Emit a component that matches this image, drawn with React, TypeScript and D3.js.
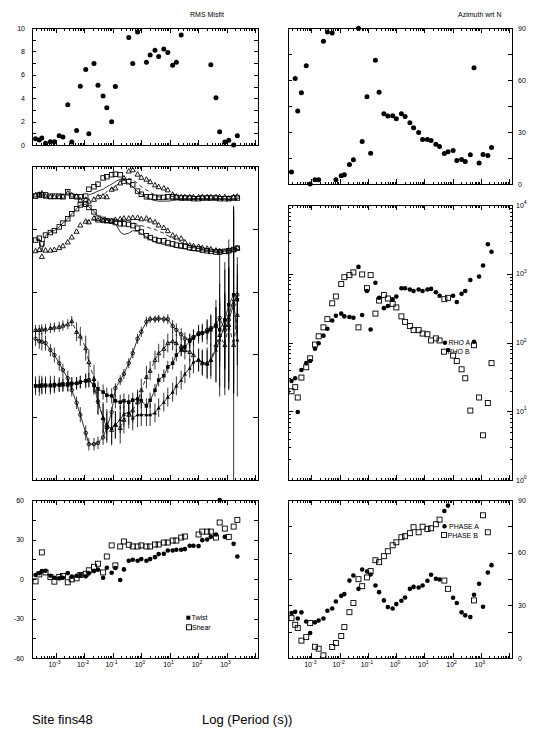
import React from "react";
import * as d3 from "d3";

// ---------- DATA ----------
// log10 of period (s), shared by every panel
const PERIOD_LOG = [-3.70,-3.57,-3.48,-3.35,-3.18,-3.04,-2.87,-2.74,-2.57,-2.43,-2.26,-2.13,-1.94,-1.83,-1.65,-1.51,-1.33,-1.20,-1.03,-0.90,-0.73,-0.60,-0.43,-0.29,-0.12,0.01,0.19,0.32,0.49,0.62,0.80,0.94,1.11,1.24,1.41,1.54,1.71,1.84,2.02,2.15,2.32,2.45,2.63,2.76,2.94,3.08,3.25,3.38];

const RMS_MISFIT = [0.54,0.43,0.60,0.14,0.28,0.28,0.80,0.68,3.44,0.26,1.25,5.03,6.45,0.97,6.96,5.11,4.18,3.18,1.99,5.00,null,null,9.18,6.96,9.66,null,7.07,7.70,8.10,7.56,8.21,7.90,6.82,7.07,9.40,null,null,null,null,null,null,6.85,4.03,1.14,0.26,0.40,0.00,0.80];

const AZIMUTH = [6.9,60.9,42.1,52.7,68.2,0.0,2.5,2.5,82.3,87.7,87.1,2.5,4.8,5.4,11.3,14.0,89.8,24.5,50.4,17.8,71.4,53.0,40.6,39.3,39.4,37.7,40.6,38.9,35.4,32.4,29.7,25.7,25.7,25.1,23.0,21.6,17.6,18.6,19.3,13.6,14.2,13.0,16.9,67.0,12.1,17.0,16.5,21.1];

// log10 apparent resistivity
const RHO_A_LOG = [1.44,1.48,0.99,1.60,1.70,1.73,1.91,1.99,2.10,2.20,2.32,2.39,2.42,2.38,2.37,2.36,3.10,2.40,2.75,2.19,2.87,2.65,2.50,2.53,2.63,2.67,2.79,2.79,2.77,2.75,2.77,2.75,2.77,2.78,2.73,2.68,null,1.89,2.68,2.59,2.71,2.75,2.91,2.01,2.96,3.12,3.43,3.32];
const RHO_B_LOG = [1.29,1.35,1.20,1.49,1.64,1.77,1.97,2.09,2.22,2.34,2.57,2.67,2.85,2.95,2.98,3.02,2.22,2.99,2.79,2.98,2.42,2.61,2.69,2.64,2.56,2.51,2.38,2.30,2.24,2.18,2.18,2.13,2.12,2.03,2.06,2.03,2.63,2.65,1.81,1.73,1.61,1.48,1.01,1.96,1.20,0.65,1.12,1.70];

const PHASE_A = [25.6,26.3,22.5,26.0,20.8,14.2,20.3,21.4,22.5,26.9,28.2,32.2,35.4,36.4,44.1,47.0,39.4,50.4,49.3,47.6,41.3,37.5,32.8,29.0,28.2,30.7,32.6,34.5,39.4,40.5,40.2,41.3,44.0,47.4,45.1,44.7,83.7,86.8,34.3,31.3,26.0,24.3,23.3,36.0,42.3,29.2,48.7,52.9];
const PHASE_B = [22.7,18.9,17.1,9.9,11.9,19.9,6.4,5.3,1.5,null,6.3,8.5,12.5,17.6,26.1,31.3,44.9,40.9,45.9,49.5,55.7,54.6,58.0,60.8,64.2,65.9,68.8,69.4,71.1,74.5,71.6,74.8,73.5,73.9,76.2,78.8,44.1,39.4,null,null,null,null,null,32.8,null,81.3,71.6,null];

const TWIST = [3.0,4.5,6.0,6.3,2.5,1.0,0.5,1.0,4.5,1.8,2.5,3.0,2.0,4.3,6.0,7.1,1.0,8.6,4.8,8.3,-0.8,7.3,13.9,14.6,13.9,15.1,13.9,15.1,16.6,18.9,19.2,21.7,21.7,22.2,22.2,22.7,25.2,25.2,25.0,29.5,30.0,32.0,33.8,60.0,32.0,null,26.7,17.1];
const SHEAR = [-1.8,3.5,20.2,5.0,1.5,-2.0,1.5,2.3,-2.5,-0.3,0.5,3.0,4.0,6.6,9.3,11.6,5.0,17.1,25.5,10.3,24.7,28.5,26.0,24.7,24.7,25.5,24.7,24.7,26.2,26.2,27.7,27.7,29.2,29.2,31.5,32.3,null,null,33.8,36.0,36.0,36.0,31.5,42.9,38.3,32.0,39.8,44.9];

// middle-left panel (unlabelled axis, arbitrary units 0..5)
const ML_SQ_UP = [4.52,4.54,4.54,4.54,4.52,4.52,4.52,4.51,4.59,4.52,4.51,4.51,4.52,4.63,4.67,4.71,4.81,4.83,4.86,4.87,4.86,4.76,4.75,4.70,4.60,4.55,4.51,4.51,4.50,4.50,4.50,4.51,4.51,4.50,4.49,4.49,4.49,4.48,4.48,4.49,4.49,4.49,4.49,4.48,4.48,4.48,4.49,4.49];
const ML_TRI_UP = [4.54,4.55,4.57,4.52,4.51,4.51,4.51,4.52,4.57,4.54,4.52,4.46,4.47,4.44,4.47,4.51,4.52,4.51,4.63,4.65,4.73,4.81,4.92,4.94,4.87,4.82,4.79,4.75,4.70,4.67,4.65,4.62,4.55,4.52,4.51,4.51,4.51,4.51,4.51,4.51,4.51,4.51,4.51,4.51,4.51,4.49,4.51,4.52];
const ML_MOD_UP_SOLID = [null,null,null,null,null,null,null,null,null,null,null,null,null,4.54,4.57,4.60,4.63,4.67,4.71,4.75,4.79,4.78,4.72,4.67,4.59,4.55,4.50,4.47,4.45,4.44,4.44,4.44,4.45,4.46,4.47,4.47,4.47,4.47,4.47,4.47,4.47,4.47,4.47,4.47,4.47,4.47,4.47,4.47];
const ML_MOD_UP_DASH = [null,null,null,null,null,null,null,null,null,null,null,null,null,null,null,4.52,4.54,4.59,4.64,4.68,4.73,4.78,4.80,4.79,4.72,4.67,4.62,4.58,4.54,4.51,4.49,4.47,4.47,4.47,4.47,4.47,4.47,4.47,4.47,4.47,4.47,4.47,4.47,4.47,4.47,4.47,4.47,4.47];
const ML_SQ_MID = [3.82,3.85,3.76,3.90,3.94,3.97,4.03,4.09,4.16,4.24,4.32,4.38,4.39,4.34,4.27,4.17,4.15,4.13,4.12,4.10,4.08,4.08,4.07,4.05,4.01,3.95,3.89,3.86,3.83,3.81,3.81,3.78,3.76,3.74,3.73,3.72,3.70,3.69,3.68,3.66,3.65,3.64,3.63,3.63,3.64,3.65,3.67,3.69];
const ML_TRI_MID = [3.65,3.67,3.56,3.66,3.66,3.67,3.70,3.73,3.79,3.87,3.96,4.06,4.12,4.11,4.17,4.14,4.13,4.13,4.13,4.15,4.16,4.17,4.17,4.18,4.18,4.16,4.17,4.14,4.11,4.06,4.02,3.97,3.90,3.87,3.85,3.79,3.74,3.73,3.72,3.70,3.69,3.68,3.66,3.65,3.64,3.66,3.67,3.70];
const ML_MOD_MID_SOLID = [3.82,3.84,3.63,3.89,3.95,3.97,4.03,4.09,4.16,4.24,4.32,4.38,4.39,4.35,4.28,4.20,4.16,4.14,4.12,4.08,3.95,3.91,3.93,3.97,3.96,3.92,3.87,3.83,3.79,3.77,3.75,3.73,3.72,3.70,3.69,3.68,3.66,3.65,3.65,3.65,3.64,3.64,3.63,3.63,3.64,3.65,3.67,3.69];
const ML_MOD_MID_DASH = [null,null,null,null,null,null,null,null,null,null,null,null,4.12,4.13,4.15,4.15,4.14,4.14,4.14,4.15,4.15,4.15,4.13,4.10,4.07,4.05,4.03,4.01,3.99,3.96,3.93,3.89,3.85,3.82,3.79,3.76,3.74,3.72,3.70,3.69,3.68,3.67,3.66,3.66,3.66,3.66,3.67,3.68];
const ML_CIRC_LOW = [2.25,2.21,2.20,2.18,2.07,1.99,1.86,1.75,1.62,1.43,1.23,1.04,0.75,0.57,0.57,0.59,0.68,0.83,1.08,1.46,1.59,1.69,1.86,2.02,2.25,2.36,2.52,2.56,2.56,2.57,2.56,2.56,2.45,2.39,2.32,2.25,2.23,2.28,2.34,2.34,2.39,2.42,2.47,2.58,2.39,2.55,2.79,2.95];
const ML_SQ_LOW = [1.50,1.50,1.51,1.51,1.51,1.52,1.52,1.53,1.53,1.54,1.54,1.56,1.58,1.59,1.51,1.45,1.40,1.35,1.34,1.26,1.24,1.26,1.24,1.27,1.29,1.26,1.18,1.27,1.43,1.59,1.66,1.80,1.86,1.99,2.07,2.12,2.21,2.26,2.32,2.34,2.36,2.39,2.45,2.39,2.55,2.79,2.95,2.87];
const ML_OTRI_LOW = [2.39,2.39,2.40,2.40,2.42,2.43,2.44,2.46,2.48,2.53,2.36,2.29,2.10,1.88,1.61,1.27,0.99,0.88,0.80,0.88,0.83,0.96,1.04,1.11,1.24,1.43,1.64,1.74,1.91,2.02,2.09,2.18,2.21,2.18,2.13,2.07,2.04,1.99,1.91,1.86,1.86,1.91,2.15,2.31,2.15,2.47,2.15,2.63];
const ML_FTRI_LOW = [1.50,1.50,1.50,1.50,1.50,1.50,1.51,1.51,1.51,1.53,1.54,1.56,1.58,1.59,1.51,1.24,0.99,0.84,0.83,0.88,0.96,1.05,1.08,0.99,1.04,1.04,1.04,1.04,1.07,1.15,1.24,1.32,1.40,1.50,1.59,1.69,1.78,1.88,1.91,1.88,1.85,1.91,2.07,2.23,2.47,2.63,2.87,2.23];
const ERR_CIRC_LOW = [0.12,0.12,0.14,0.12,0.10,0.12,0.12,0.10,0.12,0.10,0.10,0.12,0.12,0.10,0.10,0.10,0.12,0.10,0.08,0.08,0.08,0.08,0.08,0.08,0.08,0.08,0.08,0.06,0.06,0.06,0.06,0.08,0.10,0.10,0.10,0.10,0.10,0.12,0.12,0.12,0.15,0.20,0.40,1.10,0.60,1.10,1.40,0.60];
const ERR_SQ_LOW = [0.15,0.16,0.15,0.14,0.15,0.14,0.12,0.12,0.12,0.10,0.10,0.10,0.12,0.12,0.12,0.12,0.12,0.12,0.12,0.12,0.12,0.12,0.12,0.12,0.12,0.12,0.12,0.12,0.10,0.10,0.10,0.10,0.10,0.10,0.10,0.10,0.12,0.12,0.15,0.15,0.20,0.25,0.30,0.50,0.80,0.60,1.40,0.40];
const ERR_OTRI_LOW = [0.08,0.08,0.08,0.08,0.08,0.08,0.08,0.08,0.08,0.08,0.15,0.15,0.20,0.20,0.22,0.22,0.25,0.25,0.25,0.22,0.25,0.22,0.22,0.20,0.20,0.18,0.18,0.15,0.15,0.15,0.15,0.15,0.15,0.15,0.15,0.15,0.15,0.18,0.18,0.20,0.25,0.30,0.60,0.50,0.80,0.90,2.15,0.80];
const ERR_FTRI_LOW = [0.10,0.10,0.12,0.10,0.10,0.10,0.10,0.10,0.10,0.10,0.10,0.10,0.10,0.10,0.15,0.20,0.22,0.25,0.25,0.22,0.22,0.20,0.20,0.20,0.20,0.18,0.18,0.18,0.15,0.15,0.15,0.15,0.15,0.15,0.15,0.15,0.15,0.18,0.18,0.20,0.22,0.25,0.50,0.90,1.00,1.20,1.50,0.90];

const X_LABEL_EXP = [-3, -2, -1, 0, 1, 2, 3];
const RMS_TICKS = [0, 2, 4, 6, 8, 10];
const DEG90_TICKS = [0, 30, 60, 90];
const TWIST_TICKS = [-60, -30, 0, 30, 60];
const RHO_EXP = [0, 1, 2, 3, 4];

// ---------- LAYOUT ----------
const FONT = "'Liberation Sans', Arial, Helvetica, sans-serif";
const X_LOG_MIN = -3.825;
const X_LOG_MAX = 4.105;
const L = { x0: 32, x1: 258 };
const R = { x0: 288, x1: 512 };

type Kind = "dot" | "fsq" | "osq" | "otri" | "ftri" | "ocirc";

function marker(kind: Kind, x: number, y: number, s: number, key: string) {
  const h = s / 2;
  switch (kind) {
    case "dot":
      return <circle key={key} cx={x} cy={y} r={h} fill="#000" />;
    case "fsq":
      return <rect key={key} x={x - h} y={y - h} width={s} height={s} fill="#000" />;
    case "osq":
      return <rect key={key} x={x - h} y={y - h} width={s} height={s} fill="none" stroke="#000" strokeWidth={0.9} />;
    case "otri":
      return <polygon key={key} points={`${x},${y - h} ${x - h},${y + h * 0.8} ${x + h},${y + h * 0.8}`} fill="none" stroke="#000" strokeWidth={0.9} />;
    case "ftri":
      return <polygon key={key} points={`${x},${y - h} ${x - h},${y + h * 0.8} ${x + h},${y + h * 0.8}`} fill="#000" />;
    case "ocirc":
      return <circle key={key} cx={x} cy={y} r={h} fill="none" stroke="#000" strokeWidth={0.9} />;
  }
}

function Frame({ sx, y0, y1 }: { sx: any; y0: number; y1: number }) {
  const [x0, x1] = sx.range();
  const [d0, d1] = sx.domain();
  const ticks: any[] = [];
  for (let k = -5; k <= 5; k++) {
    for (let m = 1; m <= 9; m++) {
      const v = m * Math.pow(10, k);
      if (v < d0 || v > d1) continue;
      const x = Math.round(sx(v)) + 0.5;
      const len = m === 1 ? 5 : 2.5;
      ticks.push(<line key={`t${k}_${m}`} x1={x} x2={x} y1={y0} y2={y0 + len} />);
      ticks.push(<line key={`b${k}_${m}`} x1={x} x2={x} y1={y1} y2={y1 - len} />);
    }
  }
  return (
    <g stroke="#000" strokeWidth={1} shapeRendering="crispEdges">
      <rect x={x0 + 0.5} y={y0 + 0.5} width={x1 - x0} height={y1 - y0} fill="none" />
      {ticks}
    </g>
  );
}

function YTicks({ sy, values, x0, x1, len }: any) {
  return (
    <g stroke="#000" strokeWidth={1} shapeRendering="crispEdges">
      {values.map((v: number, i: number) => {
        const y = Math.round(sy(v)) + 0.5;
        return (
          <g key={i}>
            <line x1={x0} x2={x0 + len} y1={y} y2={y} />
            <line x1={x1} x2={x1 - len} y1={y} y2={y} />
          </g>
        );
      })}
    </g>
  );
}

function Points({ values, sx, sy, kind, size, name, tf }: any) {
  const periods = PERIOD_LOG.map((p) => Math.pow(10, p));
  return (
    <g>
      {values.map((v: number | null, i: number) =>
        v === null ? null : marker(kind, sx(periods[i]), sy(tf ? tf(v) : v), size, `${name}${i}`)
      )}
    </g>
  );
}

function Curve({ values, sx, sy, dash, width }: any) {
  const periods = PERIOD_LOG.map((p) => Math.pow(10, p));
  const line = d3
    .line<number | null>()
    .defined((v) => v !== null)
    .x((_, i) => sx(periods[i]))
    .y((v) => sy(v as number));
  return <path d={line(values) || ""} fill="none" stroke="#000" strokeWidth={width || 0.8} strokeDasharray={dash ? "4,3" : undefined} />;
}

function ErrBars({ values, errs, sx, sy, yTop, yBot }: any) {
  const periods = PERIOD_LOG.map((p) => Math.pow(10, p));
  return (
    <g stroke="#000" strokeWidth={0.8}>
      {values.map((v: number | null, i: number) => {
        if (v === null) return null;
        const x = sx(periods[i]);
        const a = Math.max(yTop, Math.min(yBot, sy(v + errs[i])));
        const b = Math.max(yTop, Math.min(yBot, sy(v - errs[i])));
        return <line key={i} x1={x} x2={x} y1={a} y2={b} />;
      })}
    </g>
  );
}

export default function App() {
  const xd = [Math.pow(10, X_LOG_MIN), Math.pow(10, X_LOG_MAX)];
  const sxL = d3.scaleLog().domain(xd).range([L.x0, L.x1]);
  const sxR = d3.scaleLog().domain(xd).range([R.x0, R.x1]);

  const sy1 = d3.scaleLinear().domain([0, 10]).range([145, 28]);
  const sy2 = d3.scaleLinear().domain([0, 90]).range([184, 28]);
  const sy3 = d3.scaleLinear().domain([0, 5]).range([480, 166]);
  const sy4 = d3.scaleLog().domain([1, 1e4]).range([480, 205]);
  const sy5 = d3.scaleLinear().domain([-60, 60]).range([658, 500]);
  const sy6 = d3.scaleLinear().domain([0, 90]).range([658, 500]);

  const pow10 = (v: number) => Math.pow(10, v);

  const rhoMinor: number[] = [];
  for (let k = 0; k < 4; k++) for (let m = 2; m <= 9; m++) rhoMinor.push(m * Math.pow(10, k));

  const ticks1 = d3.range(0, 11, 1);
  const ticks15 = d3.range(0, 91, 15);
  const ticks15b = d3.range(-60, 61, 15);

  return (
    <svg width={553} height={741} style={{ position: "absolute", left: 0, top: 0, display: "block" }} fontFamily={FONT}>
      <rect width={553} height={741} fill="#fff" />

      {/* titles */}
      <text x={190} y={17} fontSize={7}>RMS Misfit</text>
      <text x={458} y={17} fontSize={7}>Azimuth wrt N</text>

      {/* Panel 1: RMS misfit */}
      <Frame sx={sxL} y0={28} y1={145} />
      <YTicks sy={sy1} values={ticks1} x0={L.x0} x1={L.x1} len={4} />
      {RMS_TICKS.map((t) => (
        <text key={t} x={25} y={sy1(t) + 2.5} fontSize={7} textAnchor="end">{t}</text>
      ))}
      <Points values={RMS_MISFIT} sx={sxL} sy={sy1} kind="dot" size={5} name="rms" />

      {/* Panel 2: azimuth */}
      <Frame sx={sxR} y0={28} y1={184} />
      <YTicks sy={sy2} values={ticks15} x0={R.x0} x1={R.x1} len={4} />
      {DEG90_TICKS.map((t) => (
        <text key={t} x={518} y={sy2(t) + 2.5} fontSize={7}>{t}</text>
      ))}
      <Points values={AZIMUTH} sx={sxR} sy={sy2} kind="dot" size={5} name="az" />

      {/* Panel 3: middle-left */}
      <Frame sx={sxL} y0={166} y1={480} />
      <YTicks sy={sy3} values={[1, 2, 3, 4]} x0={L.x0} x1={L.x1} len={5} />
      <Curve values={ML_MOD_UP_SOLID} sx={sxL} sy={sy3} />
      <Curve values={ML_MOD_UP_DASH} sx={sxL} sy={sy3} dash />
      <Curve values={ML_MOD_MID_SOLID} sx={sxL} sy={sy3} />
      <Curve values={ML_MOD_MID_DASH} sx={sxL} sy={sy3} dash />
      <Points values={ML_SQ_UP} sx={sxL} sy={sy3} kind="osq" size={4.5} name="su" />
      <Points values={ML_TRI_UP} sx={sxL} sy={sy3} kind="otri" size={5} name="tu" />
      <Points values={ML_SQ_MID} sx={sxL} sy={sy3} kind="osq" size={4.5} name="sm" />
      <Points values={ML_TRI_MID} sx={sxL} sy={sy3} kind="otri" size={5} name="tm" />

      <ErrBars values={ML_CIRC_LOW} errs={ERR_CIRC_LOW} sx={sxL} sy={sy3} yTop={166} yBot={480} />
      <ErrBars values={ML_SQ_LOW} errs={ERR_SQ_LOW} sx={sxL} sy={sy3} yTop={166} yBot={480} />
      <ErrBars values={ML_OTRI_LOW} errs={ERR_OTRI_LOW} sx={sxL} sy={sy3} yTop={166} yBot={480} />
      <ErrBars values={ML_FTRI_LOW} errs={ERR_FTRI_LOW} sx={sxL} sy={sy3} yTop={166} yBot={480} />
      <Curve values={ML_CIRC_LOW} sx={sxL} sy={sy3} width={0.8} />
      <Curve values={ML_SQ_LOW} sx={sxL} sy={sy3} width={0.8} />
      <Curve values={ML_OTRI_LOW} sx={sxL} sy={sy3} width={0.8} dash />
      <Curve values={ML_FTRI_LOW} sx={sxL} sy={sy3} width={0.8} />
      <Points values={ML_CIRC_LOW} sx={sxL} sy={sy3} kind="ocirc" size={3.5} name="cl" />
      <Points values={ML_SQ_LOW} sx={sxL} sy={sy3} kind="fsq" size={3.5} name="sl" />
      <Points values={ML_OTRI_LOW} sx={sxL} sy={sy3} kind="otri" size={4} name="ol" />
      <Points values={ML_FTRI_LOW} sx={sxL} sy={sy3} kind="ftri" size={4} name="fl" />

      {/* Panel 4: apparent resistivity */}
      <Frame sx={sxR} y0={205} y1={480} />
      <YTicks sy={sy4} values={RHO_EXP.map(pow10)} x0={R.x0} x1={R.x1} len={5} />
      <YTicks sy={sy4} values={rhoMinor} x0={R.x0} x1={R.x1} len={2.5} />
      {RHO_EXP.map((e) => (
        <text key={e} x={516} y={sy4(pow10(e)) + 2.5} fontSize={7}>
          10<tspan dy={-3.5} fontSize={5}>{e}</tspan>
        </text>
      ))}
      <Points values={RHO_B_LOG} sx={sxR} sy={sy4} kind="osq" size={5} name="rb" tf={pow10} />
      <Points values={RHO_A_LOG} sx={sxR} sy={sy4} kind="dot" size={4.6} name="ra" tf={pow10} />
      <circle cx={445} cy={342.7} r={2.2} fill="#000" />
      <text x={448.5} y={345.2} fontSize={7}>RHO A</text>
      <rect x={441.5} y={349.2} width={5} height={5} fill="none" stroke="#000" strokeWidth={0.9} />
      <text x={447.5} y={354.2} fontSize={7}>RHO B</text>

      {/* Panel 5: twist / shear */}
      <Frame sx={sxL} y0={500} y1={658} />
      <YTicks sy={sy5} values={ticks15b} x0={L.x0} x1={L.x1} len={4} />
      {TWIST_TICKS.map((t) => (
        <text key={t} x={24} y={sy5(t) + 2.5} fontSize={7} textAnchor="end">{t}</text>
      ))}
      <Points values={SHEAR} sx={sxL} sy={sy5} kind="osq" size={5} name="sh" />
      <Points values={TWIST} sx={sxL} sy={sy5} kind="dot" size={4.6} name="tw" />
      <rect x={186.3} y={615.7} width={4} height={4} fill="#000" />
      <text x={191.5} y={620.3} fontSize={7}>Twist</text>
      <rect x={186.5} y={624.8} width={5} height={5} fill="none" stroke="#000" strokeWidth={0.9} />
      <text x={192} y={630} fontSize={7}>Shear</text>

      {/* Panel 6: phase */}
      <Frame sx={sxR} y0={500} y1={658} />
      <YTicks sy={sy6} values={ticks15} x0={R.x0} x1={R.x1} len={4} />
      {DEG90_TICKS.map((t) => (
        <text key={t} x={518} y={sy6(t) + 2.5} fontSize={7}>{t}</text>
      ))}
      <Points values={PHASE_B} sx={sxR} sy={sy6} kind="osq" size={5} name="pb" />
      <Points values={PHASE_A} sx={sxR} sy={sy6} kind="dot" size={4.6} name="pa" />
      <circle cx={444.5} cy={526.3} r={2.2} fill="#000" />
      <text x={449} y={528.8} fontSize={7}>PHASE A</text>
      <rect x={441.5} y={532.5} width={5} height={5} fill="none" stroke="#000" strokeWidth={0.9} />
      <text x={447.5} y={537.7} fontSize={7}>PHASE B</text>

      {/* bottom x labels */}
      {X_LABEL_EXP.map((e) => (
        <g key={e}>
          <text x={sxL(pow10(e)) - 1} y={667} fontSize={7} textAnchor="middle">
            10<tspan dy={-3.5} fontSize={5}>{e}</tspan>
          </text>
          <text x={sxR(pow10(e)) - 1} y={667} fontSize={7} textAnchor="middle">
            10<tspan dy={-3.5} fontSize={5}>{e}</tspan>
          </text>
        </g>
      ))}

      <text x={32} y={724} fontSize={13}>Site fins48</text>
      <text x={202} y={724} fontSize={13}>Log (Period (s))</text>
    </svg>
  );
}
